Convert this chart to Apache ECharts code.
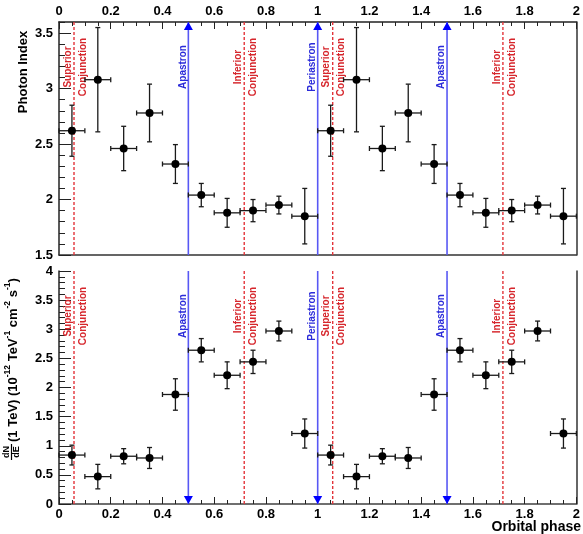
<!DOCTYPE html>
<html><head><meta charset="utf-8">
<script src="https://cdn.jsdelivr.net/npm/echarts@6/dist/echarts.min.js"></script>
<style>html,body{margin:0;padding:0;background:#fff}#c{width:583px;height:534px}</style>
</head><body><div id="c"></div>
<script>
// ---------- data ----------
const phases = [0.05,0.15,0.25,0.35,0.45,0.55,0.65,0.75,0.85,0.95,
                1.05,1.15,1.25,1.35,1.45,1.55,1.65,1.75,1.85,1.95];
const phaseErr = [0.05,0.05,0.05,0.05,0.05,0.05,0.05,0.05,0.05,0.05,
                  0.05,0.05,0.05,0.05,0.05,0.05,0.05,0.05,0.05,0.05];
const photonIndex = [2.62,3.08,2.46,2.78,2.32,2.04,1.88,1.90,1.95,1.85,
                     2.62,3.08,2.46,2.78,2.32,2.04,1.88,1.90,1.95,1.85];
const photonIndexErr = [0.23,0.47,0.20,0.26,0.175,0.105,0.13,0.10,0.08,0.25,
                        0.23,0.47,0.20,0.26,0.175,0.105,0.13,0.10,0.08,0.25];
const flux = [0.84,0.47,0.82,0.79,1.88,2.64,2.21,2.44,2.97,1.21,
              0.84,0.47,0.82,0.79,1.88,2.64,2.21,2.44,2.97,1.21];
const fluxErr = [0.17,0.21,0.13,0.18,0.27,0.20,0.23,0.20,0.17,0.25,
                 0.17,0.21,0.13,0.18,0.27,0.20,0.23,0.20,0.17,0.25];
const eventPhase = [0.058,0.5,0.716,1.0,1.058,1.5,1.716];
const eventName = ['Superior\nConjunction','Apastron','Inferior\nConjunction','Periastron',
                   'Superior\nConjunction','Apastron','Inferior\nConjunction'];
const eventType = ['conj','apsis','conj','apsis','conj','apsis','conj'];
const indexRange = [1.5, 3.6];
const fluxRange = [0, 4];
const phaseRange = [0, 2];

// ---------- styles ----------
const FONT = '"Liberation Sans", Arial, Helvetica, sans-serif';
const AX = '#222';

function errRender(params, api) {
  const x = api.value(0), y = api.value(1), ex = api.value(2), ey = api.value(3);
  const l = api.coord([x - ex, y]), r = api.coord([x + ex, y]);
  const t = api.coord([x, y + ey]), b = api.coord([x, y - ey]);
  const st = { stroke: '#1a1a1a', lineWidth: 1.3 };
  const cap = 2.5;
  const ln = (x1, y1, x2, y2) => ({ type: 'line', shape: { x1, y1, x2, y2 }, style: st });
  return { type: 'group', children: [
    ln(l[0], l[1], r[0], r[1]),
    ln(t[0], t[1], b[0], b[1]),
    ln(t[0] - cap, t[1], t[0] + cap, t[1]),
    ln(b[0] - cap, b[1], b[0] + cap, b[1]),
    ln(l[0], l[1] - cap, l[0], l[1] + cap),
    ln(r[0], r[1] - cap, r[0], r[1] + cap)
  ]};
}

function eventRender(panel) {
  return function (params, api) {
    const cs = params.coordSys;
    const i = params.dataIndex;
    const px = api.coord([api.value(0), api.value(1)])[0];
    const type = eventType[i];
    const top = cs.y, bot = cs.y + cs.height;
    const children = [];
    if (type === 'apsis') {
      children.push({ type: 'line', shape: { x1: px, y1: top, x2: px, y2: bot },
        style: { stroke: '#5858f4', lineWidth: 1.6 } });
      const tri = panel === 0
        ? [[px, top], [px - 4.5, top + 8], [px + 4.5, top + 8]]
        : [[px, bot], [px - 4.5, bot - 8], [px + 4.5, bot - 8]];
      children.push({ type: 'polygon', shape: { points: tri }, style: { fill: '#0000ff' } });
    } else {
      children.push({ type: 'line', shape: { x1: px, y1: top, x2: px, y2: bot },
        style: { stroke: '#e3343a', lineWidth: 1.4, lineDash: [3, 2] } });
    }
    const lines = eventName[i].split('\n');
    const cy = top + 45;
    const color = type === 'apsis' ? '#2b2bd9' : '#d6262c';
    const offs = lines.length === 2 ? [-6, 9] : [-5.5];
    lines.forEach((t, k) => children.push({
      type: 'text', x: px + offs[k], y: cy, rotation: Math.PI / 2,
      style: { text: t, fill: color, font: 'bold 10px ' + FONT, align: 'center', verticalAlign: 'middle' }
    }));
    return { type: 'group', children };
  };
}

function mainX(grid, pos, labels) {
  return {
    type: 'value', gridIndex: grid, position: pos, min: phaseRange[0], max: phaseRange[1], interval: 0.2,
    axisLine: { show: true, lineStyle: { color: AX, width: 1.5 } },
    axisTick: { show: true, inside: true, length: 7, lineStyle: { color: AX, width: 1 } },
    minorTick: { show: true, splitNumber: 4, length: 4, lineStyle: { color: AX, width: 1 } },
    axisLabel: { show: labels, color: '#000', fontWeight: 'bold', fontSize: 13, fontFamily: FONT, margin: pos === 'top' ? 4 : 4 },
    splitLine: { show: false }, minorSplitLine: { show: false }
  };
}
function frameX(grid, pos, color) {
  return {
    type: 'value', gridIndex: grid, position: pos, min: phaseRange[0], max: phaseRange[1],
    axisLine: { show: true, lineStyle: { color: color, width: 1.5 } },
    axisTick: { show: false }, axisLabel: { show: false }, splitLine: { show: false }
  };
}
function mainY(grid, range) {
  return {
    type: 'value', gridIndex: grid, position: 'left', min: range[0], max: range[1], interval: 0.5,
    axisLine: { show: true, lineStyle: { color: AX, width: 1.5 } },
    axisTick: { show: true, inside: true, length: 12, lineStyle: { color: AX, width: 1 } },
    axisLabel: { show: true, color: '#000', fontWeight: 'bold', fontSize: 13, fontFamily: FONT, margin: 6,
      showMaxLabel: range[1] % 0.5 === 0 },
    splitLine: { show: false }
  };
}
function minorY(grid, range) {
  return {
    type: 'value', gridIndex: grid, position: 'left', min: range[0], max: range[1], interval: 0.1,
    axisLine: { show: false },
    axisTick: { show: true, inside: true, length: 6, lineStyle: { color: AX, width: 1 } },
    axisLabel: { show: false }, splitLine: { show: false }
  };
}
function frameY(grid, range, color) {
  return {
    type: 'value', gridIndex: grid, position: 'right', min: range[0], max: range[1],
    axisLine: { show: true, lineStyle: { color: color, width: 1.5 } },
    axisTick: { show: false }, axisLabel: { show: false }, splitLine: { show: false }
  };
}

const indexData = phases.map((p, i) => [p, photonIndex[i], phaseErr[i], photonIndexErr[i]]);
const fluxData = phases.map((p, i) => [p, flux[i], phaseErr[i], fluxErr[i]]);

const chart = echarts.init(document.getElementById('c'), null, { renderer: 'canvas' });
chart.setOption({
  animation: false,
  backgroundColor: '#fff',
  textStyle: { fontFamily: FONT },
  grid: [
    { left: 59, top: 22, width: 518, height: 233 },
    { left: 59, top: 271, width: 518, height: 233 }
  ],
  xAxis: [
    mainX(0, 'top', true),
    frameX(0, 'bottom', '#333'),
    mainX(1, 'bottom', true),
    frameX(1, 'top', '#777')
  ],
  yAxis: [
    mainY(0, indexRange),
    minorY(0, indexRange),
    frameY(0, indexRange, '#333'),
    mainY(1, fluxRange),
    minorY(1, fluxRange),
    frameY(1, fluxRange, '#333')
  ],
  series: [
    { type: 'custom', xAxisIndex: 0, yAxisIndex: 0, renderItem: eventRender(0),
      data: eventPhase.map(p => [p, indexRange[0]]), encode: { x: 0, y: 1 }, z: 1, silent: true },
    { type: 'custom', xAxisIndex: 2, yAxisIndex: 3, renderItem: eventRender(1),
      data: eventPhase.map(p => [p, fluxRange[0]]), encode: { x: 0, y: 1 }, z: 1, silent: true },
    { type: 'custom', xAxisIndex: 0, yAxisIndex: 0, renderItem: errRender,
      data: indexData, encode: { x: 0, y: 1 }, z: 3 },
    { type: 'custom', xAxisIndex: 2, yAxisIndex: 3, renderItem: errRender,
      data: fluxData, encode: { x: 0, y: 1 }, z: 3 },
    { type: 'scatter', xAxisIndex: 0, yAxisIndex: 0, symbol: 'circle', symbolSize: 8,
      itemStyle: { color: '#000', opacity: 1 }, data: indexData.map(d => [d[0], d[1]]), z: 4 },
    { type: 'scatter', xAxisIndex: 2, yAxisIndex: 3, symbol: 'circle', symbolSize: 8,
      itemStyle: { color: '#000', opacity: 1 }, data: fluxData.map(d => [d[0], d[1]]), z: 4 }
  ],
  graphic: [
    { type: 'text', x: 23, y: 72, rotation: Math.PI / 2,
      style: { text: 'Photon Index', font: 'bold 13px ' + FONT, fill: '#000', align: 'center', verticalAlign: 'middle' } },
    { type: 'group', x: 11.5, y: 461, rotation: Math.PI / 2, children: [
      { type: 'text', x: 9, y: -4.5, style: { text: 'dN', font: 'bold 9px ' + FONT, fill: '#000', align: 'center', verticalAlign: 'middle' } },
      { type: 'line', shape: { x1: 1, y1: 0, x2: 17, y2: 0 }, style: { stroke: '#000', lineWidth: 1.2 } },
      { type: 'text', x: 9, y: 5, style: { text: 'dE', font: 'bold 9px ' + FONT, fill: '#000', align: 'center', verticalAlign: 'middle' } },
      { type: 'text', x: 19, y: 0, style: {
          text: '{m|(1 TeV) (10}{s|-12}{m| TeV}{s|-1}{m| cm}{s|-2}{m| s}{s|-1}{m|)}',
          align: 'left', verticalAlign: 'middle', fill: '#000',
          rich: {
            m: { font: 'bold 13px ' + FONT, fill: '#000', lineHeight: 16, verticalAlign: 'bottom' },
            s: { font: 'bold 8.5px ' + FONT, fill: '#000', lineHeight: 10, verticalAlign: 'top' }
          } } }
    ] },
    { type: 'text', right: 2, top: 520,
      style: { text: 'Orbital phase', font: 'bold 14px ' + FONT, fill: '#000' } }
  ]
});
</script>
</body></html>
